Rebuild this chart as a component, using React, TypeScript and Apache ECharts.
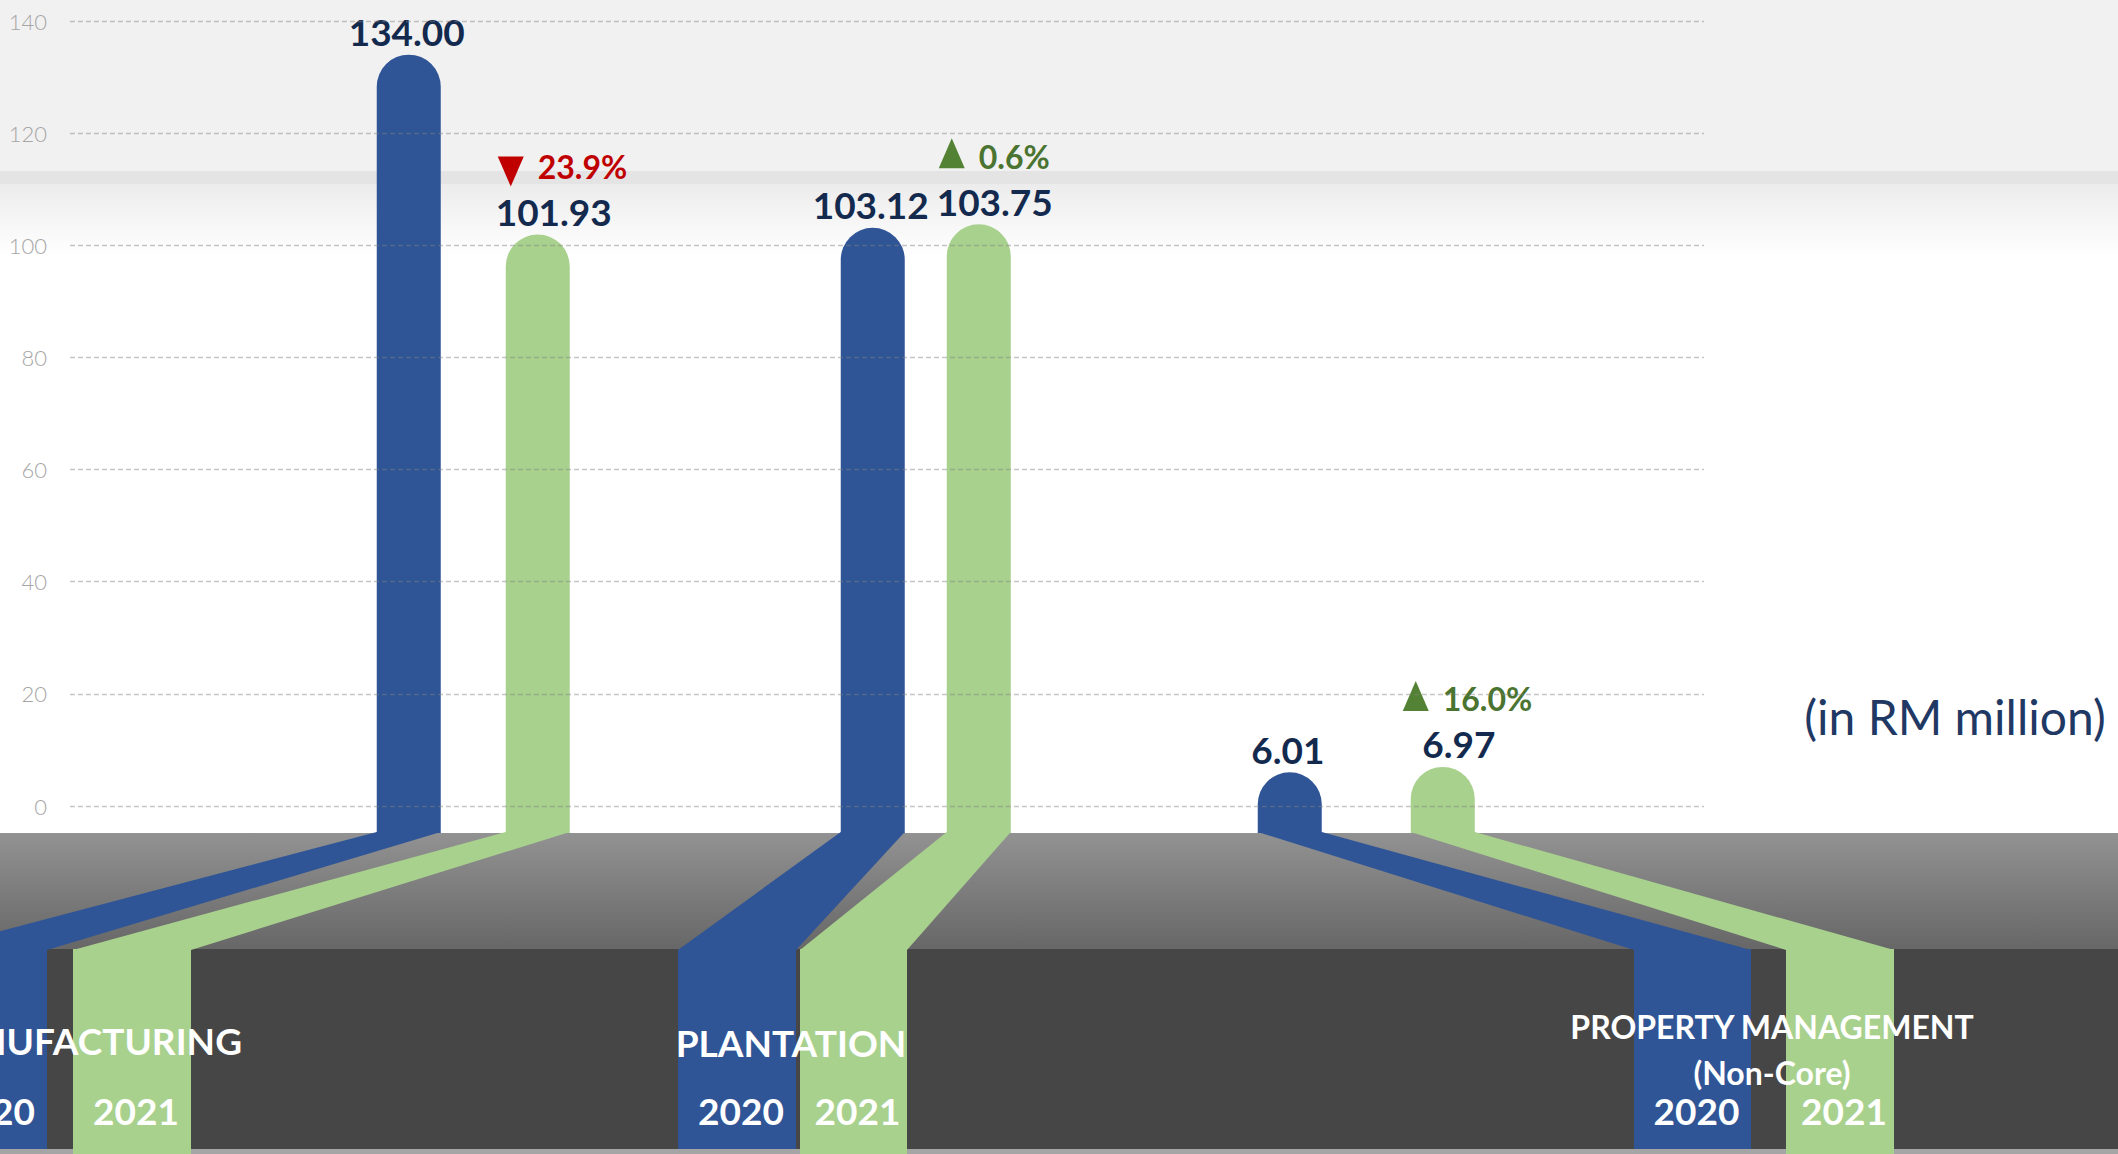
import React, { useEffect, useRef } from "react";
import * as echarts from "echarts";

// ---------- data ----------
const categories = ["MANUFACTURING", "PLANTATION", "PROPERTY MANAGEMENT\n(Non-Core)"];
const years = ["2020", "2021"];
const values2020 = [134.0, 103.12, 6.01];
const values2021 = [101.93, 103.75, 6.97];
const pctChange2021 = [-23.9, 0.6, 16.0];
const unitLabel = "(in RM million)";
const yMin = 0;
const yMax = 140;
const yInterval = 20;

// ---------- layout / style ----------
const W = 2118;
const H = 1154;
const GRID_TOP = 21;
const GRID_BOTTOM = H - 806;
const FLOOR_Y = 833;
const DARK_TOP = 949;
const DARK_BOTTOM = 1149;
const BAR_W = 64;
// per-group spacing between the pair of bars (half gap, px) and small group shift (px)
const PAIR_HALF_GAP = [64.5, 53, 76.5];
const GROUP_SHIFT = [0, 6, 0];
const LABEL_DX = [-2, 16];
const COLORS = ["#2f5597", "#a9d18e"];
const NAVY = "#132a4e";
const FONT = "Lato, 'Open Sans', sans-serif";
// vertical strips in the dark band: [left, right] per category, per year
const STRIPS = [
  [[-71, 47], [678, 796], [1634, 1751]],
  [[73, 191], [800, 907], [1786, 1894]],
];
const STRIP_BOTTOM = [1149, 1154];
const CAT_LABELS = [
  { x: 242, y: 1040, align: "right", size: 37 },
  { x: 791, y: 1042, align: "center", size: 37 },
  { x: 1772, y: 1049, align: "center", size: 32 },
];

function makeRenderItem(s: number) {
  return (params: any, api: any) => {
    const i = params.dataIndex;
    const v = api.value(1);
    const pt = api.coord([api.value(0), v]);
    const cx = pt[0] + GROUP_SHIFT[i] + (s === 0 ? -1 : 1) * PAIR_HALF_GAP[i];
    const top = pt[1];
    const left = cx - BAR_W / 2;
    const right = cx + BAR_W / 2;
    const color = COLORS[s];
    const [sl, sr] = STRIPS[s][i];
    const labelY = top - 23;
    const children: any[] = [
      {
        type: "polygon",
        shape: { points: [[left, FLOOR_Y - 1], [right, FLOOR_Y - 1], [sr, DARK_TOP + 1], [sl, DARK_TOP + 1]] },
        style: { fill: color },
      },
      {
        type: "rect",
        shape: { x: sl, y: DARK_TOP, width: sr - sl, height: STRIP_BOTTOM[s] - DARK_TOP },
        style: { fill: color },
      },
      {
        type: "rect",
        shape: { x: left, y: top, width: BAR_W, height: FLOOR_Y - top, r: [BAR_W / 2, BAR_W / 2, 0, 0] },
        style: { fill: color },
      },
      {
        type: "text",
        x: cx + LABEL_DX[s],
        y: labelY,
        style: {
          text: v.toFixed(2),
          fill: NAVY,
          fontSize: 37,
          fontWeight: "bold",
          fontFamily: FONT,
          align: "center",
          verticalAlign: "middle",
          textAlign: "center",
          textVerticalAlign: "middle",
        },
      },
    ];
    if (s === 1) {
      const p = pctChange2021[i];
      const up = p >= 0;
      const rowY = labelY - 45;
      const tx = cx - 40;
      const tri = up
        ? [[tx, rowY + 12], [tx + 26, rowY + 12], [tx + 13, rowY - 18]]
        : [[tx, rowY - 10], [tx + 26, rowY - 10], [tx + 13, rowY + 20]];
      children.push({
        type: "polygon",
        shape: { points: tri },
        style: { fill: up ? "#548235" : "#c00000" },
      });
      children.push({
        type: "text",
        x: tx + 40,
        y: rowY,
        style: {
          text: Math.abs(p).toFixed(1) + "%",
          fill: up ? "#4a7430" : "#c00000",
          fontSize: 32,
          fontWeight: "bold",
          fontFamily: FONT,
          align: "left",
          verticalAlign: "middle",
          textAlign: "left",
          textVerticalAlign: "middle",
        },
      });
    }
    return { type: "group", children };
  };
}

export default function App() {
  const ref = useRef<HTMLDivElement>(null);
  useEffect(() => {
    document.body.style.margin = "0";
    const chart = echarts.init(ref.current!, null, { renderer: "svg" });

    const bgGraphics: any[] = [
      { type: "rect", z: -10, shape: { x: 0, y: 0, width: W, height: 171 }, style: { fill: "#f1f1f1" } },
      { type: "rect", z: -10, shape: { x: 0, y: 171, width: W, height: 13 }, style: { fill: "#e4e4e4" } },
      {
        type: "rect",
        z: -10,
        shape: { x: 0, y: 184, width: W, height: 72 },
        style: {
          fill: new echarts.graphic.LinearGradient(0, 0, 0, 1, [
            { offset: 0, color: "#ececec" },
            { offset: 1, color: "#ffffff" },
          ]),
        },
      },
      {
        type: "rect",
        z: -10,
        shape: { x: 0, y: FLOOR_Y, width: W, height: DARK_TOP - FLOOR_Y },
        style: {
          fill: new echarts.graphic.LinearGradient(0, 0, 0, 1, [
            { offset: 0, color: "#929292" },
            { offset: 1, color: "#676767" },
          ]),
        },
      },
      { type: "rect", z: -10, shape: { x: 0, y: DARK_TOP, width: W, height: DARK_BOTTOM - DARK_TOP }, style: { fill: "#464646" } },
      { type: "rect", z: -10, shape: { x: 0, y: DARK_BOTTOM, width: W, height: H - DARK_BOTTOM }, style: { fill: "#a5a5a5" } },
    ];

    const textGraphics: any[] = [];
    categories.forEach((c, i) => {
      const L = CAT_LABELS[i];
      textGraphics.push({
        type: "text",
        z: 100,
        x: L.x,
        y: L.y,
        style: {
          text: c,
          fill: "#ffffff",
          fontSize: L.size,
          fontWeight: "bold",
          fontFamily: FONT,
          lineHeight: 46,
          align: L.align,
          verticalAlign: "middle",
          textAlign: L.align,
          textVerticalAlign: "middle",
        },
      });
      years.forEach((yr, s) => {
        const [sl, sr] = STRIPS[s][i];
        textGraphics.push({
          type: "text",
          z: 100,
          x: (sl + sr) / 2 + 4,
          y: 1110,
          style: {
            text: yr,
            fill: "#ffffff",
            fontSize: 37,
            fontWeight: "bold",
            fontFamily: FONT,
            align: "center",
            verticalAlign: "middle",
            textAlign: "center",
            textVerticalAlign: "middle",
          },
        });
      });
    });
    textGraphics.push({
      type: "text",
      z: 100,
      x: 1955,
      y: 716,
      style: {
        text: unitLabel,
        fill: "#1f3864",
        fontSize: 48,
        fontWeight: "normal",
        fontFamily: FONT,
        align: "center",
        verticalAlign: "middle",
        textAlign: "center",
        textVerticalAlign: "middle",
      },
    });

    chart.setOption({
      animation: false,
      backgroundColor: "#ffffff",
      graphic: { elements: [...bgGraphics, ...textGraphics] },
      grid: [
        { left: 70, right: W - 1704, top: GRID_TOP, bottom: GRID_BOTTOM },
        { left: 250, right: W - 250 - 1339.5, top: GRID_TOP, bottom: GRID_BOTTOM },
      ],
      xAxis: [
        { type: "category", gridIndex: 0, data: categories, show: false },
        { type: "category", gridIndex: 1, data: categories, show: false },
      ],
      yAxis: [
        {
          type: "value",
          gridIndex: 0,
          min: yMin,
          max: yMax,
          interval: yInterval,
          z: 5,
          axisLine: { show: false },
          axisTick: { show: false },
          axisLabel: { color: "#a6a6a6", fontSize: 22, fontFamily: FONT, fontWeight: 300, margin: 23 },
          splitLine: { show: true, lineStyle: { color: "rgba(130,130,130,0.45)", width: 1.4, type: [5, 3] } },
        },
        { type: "value", gridIndex: 1, min: yMin, max: yMax, interval: yInterval, show: false, splitLine: { show: false } },
      ],
      series: [
        {
          type: "custom",
          name: years[0],
          xAxisIndex: 1,
          yAxisIndex: 1,
          clip: false,
          renderItem: makeRenderItem(0),
          encode: { x: 0, y: 1 },
          data: values2020.map((v, i) => [i, v]),
        },
        {
          type: "custom",
          name: years[1],
          xAxisIndex: 1,
          yAxisIndex: 1,
          clip: false,
          renderItem: makeRenderItem(1),
          encode: { x: 0, y: 1 },
          data: values2021.map((v, i) => [i, v]),
        },
      ],
    });
    return () => chart.dispose();
  }, []);
  return <div ref={ref} style={{ width: W, height: H }} />;
}
